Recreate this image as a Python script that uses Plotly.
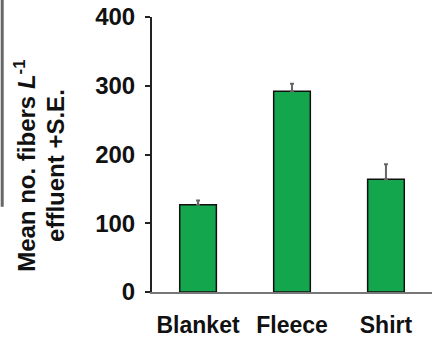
import plotly.graph_objects as go

categories = ["Blanket", "Fleece", "Shirt"]
means = [127, 292, 164]
se = [6, 11, 22]
y_ticks = [0, 100, 200, 300, 400]
y_title_lines = ["Mean no. fibers <i>L</i><sup>-1</sup>", "effluent +S.E."]

fig = go.Figure()
fig.add_trace(go.Bar(
    x=categories, y=means,
    width=0.39,
    marker=dict(color="#14a64c", line=dict(color="#111111", width=1.5)),
    error_y=dict(type="data", symmetric=False, array=se, arrayminus=[0, 0, 0],
                 color="#666666", thickness=2, width=2),
))

font = "Liberation Sans, Arial, sans-serif"
title_font = dict(size=24, family=font, weight="bold", color="#111111")
fig.update_layout(
    width=443, height=338,
    margin=dict(l=152, r=11, t=17, b=46),
    paper_bgcolor="white", plot_bgcolor="white",
    showlegend=False,
    font=dict(family=font, size=22, color="#111111"),
    xaxis=dict(range=[-0.49, 2.49], showline=True, linecolor="#777777", linewidth=2,
               ticks="", tickfont=dict(size=23, family=font, weight="bold", color="#111111"),
               showgrid=False, ticklabelstandoff=11, automargin=False),
    yaxis=dict(range=[0, 400], tickvals=y_ticks, showline=True, linecolor="#222222",
               linewidth=2, ticks="outside", ticklen=5, tickwidth=1.5, tickcolor="#222222",
               showgrid=False, zeroline=False, automargin=False,
               tickfont=dict(size=24, family=font, weight="bold", color="#111111"),
               ticklabelstandoff=5),
    annotations=[
        dict(text=y_title_lines[0], xref="paper", yref="paper", x=-0.456, y=0.46,
             xanchor="center", yanchor="middle", textangle=-90, showarrow=False,
             font=title_font),
        dict(text=y_title_lines[1], xref="paper", yref="paper", x=-0.345, y=0.46,
             xanchor="center", yanchor="middle", textangle=-90, showarrow=False,
             font=title_font),
    ],
    shapes=[dict(type="line", xref="paper", yref="paper", x0=-0.535, x1=-0.535,
                 y0=1.07, y1=0.31, line=dict(color="#666666", width=3))],
)

fig.write_html("out.html", config={"displayModeBar": False},
               post_script="document.body.style.margin='0';document.body.style.padding='0';")
